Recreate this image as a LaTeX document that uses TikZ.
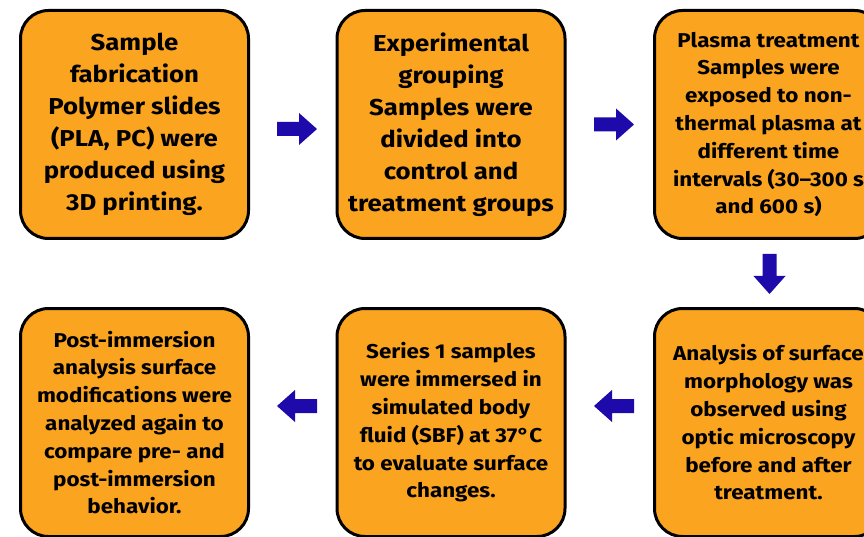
\documentclass[tikz,border=0pt]{standalone}
\usepackage{fontspec}
\setmainfont[FakeStretch=1.12]{Fira Sans}
\definecolor{boxorange}{RGB}{250,164,32}
\definecolor{arrowblue}{RGB}{30,10,170}
\tikzset{
  stepbox/.style={draw=black, line width=3pt, fill=boxorange, rounded corners=28pt,
    minimum width=228pt, minimum height=228pt, align=center, inner sep=0pt,
    font=\bfseries},
  bigtext/.style={font=\bfseries\fontsize{23}{32}\selectfont},
  smalltext/.style={font=\bfseries\fontsize{20}{27.8}\selectfont},
  blockarrow/.pic={\fill[arrowblue] (-20,-7) -- (2,-7) -- (2,-16) -- (20,0) -- (2,16) -- (2,7) -- (-20,7) -- cycle;}
}
\begin{document}
\begin{tikzpicture}[x=1pt,y=1pt]
\useasboundingbox (0,0) rectangle (864,536);
\fill[white] (0,0) rectangle (864,536);
\node[stepbox, bigtext] (b1) at (134.5,411.5) {Sample\\fabrication\\Polymer slides\\(PLA, PC) were\\produced using\\3D printing.};
\node[stepbox, bigtext] (b2) at (451,411.5) {Experimental\\grouping\\Samples were\\divided into\\control and\\treatment groups};
\node[stepbox, smalltext] (b3) at (768.5,411.5) {Plasma treatment\\Samples were\\exposed to non-\\thermal plasma at\\different time\\intervals (30–300 s\\and 600 s)};
\node[stepbox, smalltext] (b4) at (134.5,113.5) {Post-immersion\\analysis surface\\modifications were\\analyzed again to\\compare pre- and\\post-immersion\\behavior.};
\node[stepbox, smalltext] (b5) at (451,113.5) {Series 1 samples\\were immersed in\\simulated body\\fluid (SBF) at 37°C\\to evaluate surface\\changes.};
\node[stepbox, smalltext] (b6) at (768.5,113.5) {Analysis of surface\\morphology was\\observed using\\optic microscopy\\before and after\\treatment.};
\coordinate (a12) at (297,407);
\coordinate (a23) at (614,411.5);
\coordinate (a36) at (769.5,262);
\coordinate (a65) at (614,130);
\coordinate (a54) at (297,130);
\pic at (a12) {blockarrow};
\pic at (a23) {blockarrow};
\pic[rotate=-90] at (a36) {blockarrow};
\pic[rotate=180] at (a65) {blockarrow};
\pic[rotate=180] at (a54) {blockarrow};
\end{tikzpicture}
\end{document}
